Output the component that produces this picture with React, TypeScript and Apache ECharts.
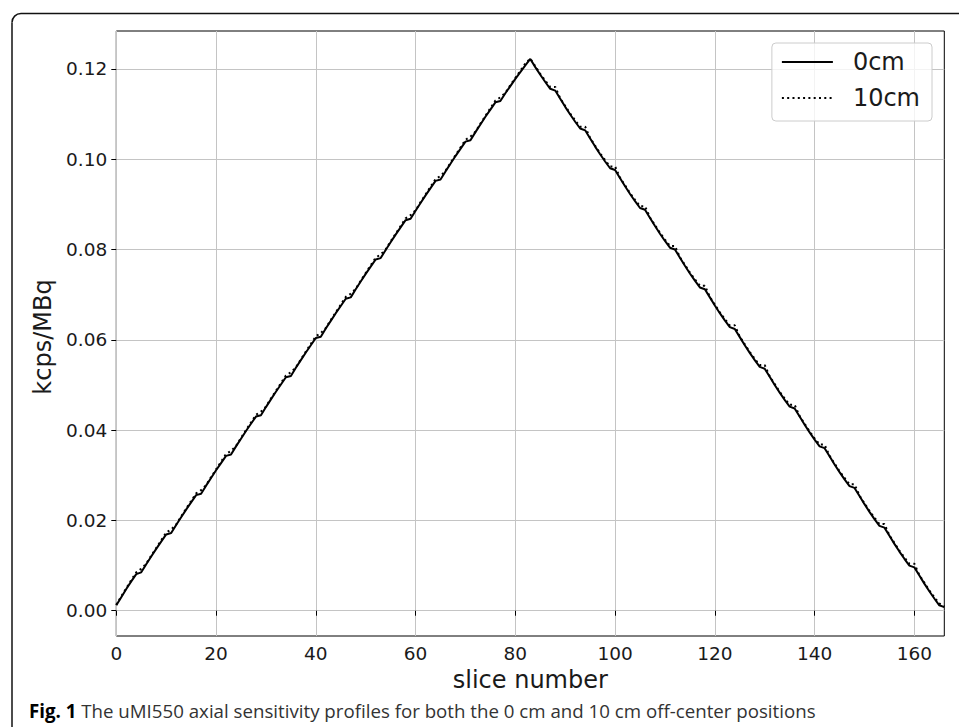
import React, { useEffect, useRef } from "react";
import * as echarts from "echarts";

// Sensitivity profile (kcps/MBq) per slice, 0cm off-center (slices 0..166)
const profile0cm = [
  0.0012, 0.0030, 0.0048, 0.0065, 0.0081, 0.0085,
  0.0103, 0.0120, 0.0137, 0.0153, 0.0169, 0.0172,
  0.0190, 0.0207, 0.0224, 0.0240, 0.0256, 0.0259,
  0.0277, 0.0294, 0.0311, 0.0327, 0.0343, 0.0346,
  0.0364, 0.0381, 0.0398, 0.0414, 0.0430, 0.0433,
  0.0451, 0.0468, 0.0485, 0.0501, 0.0517, 0.0520,
  0.0538, 0.0555, 0.0572, 0.0588, 0.0604, 0.0607,
  0.0625, 0.0642, 0.0659, 0.0675, 0.0691, 0.0694,
  0.0712, 0.0729, 0.0746, 0.0762, 0.0778, 0.0781,
  0.0799, 0.0816, 0.0833, 0.0849, 0.0865, 0.0868,
  0.0886, 0.0903, 0.0920, 0.0936, 0.0952, 0.0955,
  0.0973, 0.0990, 0.1007, 0.1023, 0.1039, 0.1042,
  0.1060, 0.1077, 0.1094, 0.1110, 0.1126, 0.1129,
  0.1146, 0.1162, 0.1178, 0.1193, 0.1208, 0.1222,
  0.1204, 0.1187, 0.1171, 0.1156, 0.1152,
  0.1134, 0.1116, 0.1099, 0.1083, 0.1068, 0.1064,
  0.1046, 0.1028, 0.1011, 0.0995, 0.0980, 0.0976,
  0.0958, 0.0940, 0.0923, 0.0907, 0.0892, 0.0888,
  0.0870, 0.0852, 0.0835, 0.0819, 0.0804, 0.0800,
  0.0782, 0.0764, 0.0747, 0.0731, 0.0716, 0.0712,
  0.0694, 0.0676, 0.0659, 0.0643, 0.0628, 0.0624,
  0.0606, 0.0588, 0.0571, 0.0555, 0.0540, 0.0536,
  0.0518, 0.0500, 0.0483, 0.0467, 0.0452, 0.0448,
  0.0430, 0.0412, 0.0395, 0.0379, 0.0364, 0.0360,
  0.0342, 0.0324, 0.0307, 0.0291, 0.0276, 0.0272,
  0.0254, 0.0236, 0.0219, 0.0203, 0.0188, 0.0184,
  0.0166, 0.0148, 0.0131, 0.0115, 0.0100, 0.0096,
  0.0078, 0.0060, 0.0043, 0.0027, 0.0012, 0.0008,
];

// Sensitivity profile (kcps/MBq) per slice, 10cm off-center (slices 0..166)
const profile10cm = [
  0.0013, 0.0032, 0.0050, 0.0068, 0.0085, 0.0093,
  0.0104, 0.0122, 0.0139, 0.0156, 0.0173, 0.0180,
  0.0191, 0.0209, 0.0226, 0.0243, 0.0260, 0.0267,
  0.0278, 0.0296, 0.0313, 0.0330, 0.0347, 0.0354,
  0.0365, 0.0383, 0.0400, 0.0417, 0.0434, 0.0441,
  0.0452, 0.0470, 0.0487, 0.0504, 0.0521, 0.0528,
  0.0539, 0.0557, 0.0574, 0.0591, 0.0608, 0.0615,
  0.0626, 0.0644, 0.0661, 0.0678, 0.0695, 0.0702,
  0.0713, 0.0731, 0.0748, 0.0765, 0.0782, 0.0789,
  0.0800, 0.0818, 0.0835, 0.0852, 0.0869, 0.0876,
  0.0887, 0.0905, 0.0922, 0.0939, 0.0956, 0.0963,
  0.0974, 0.0992, 0.1009, 0.1026, 0.1043, 0.1050,
  0.1061, 0.1079, 0.1096, 0.1113, 0.1130, 0.1137,
  0.1147, 0.1164, 0.1180, 0.1196, 0.1212, 0.1223,
  0.1206, 0.1189, 0.1174, 0.1160, 0.1160,
  0.1135, 0.1118, 0.1101, 0.1086, 0.1072, 0.1072,
  0.1047, 0.1030, 0.1013, 0.0998, 0.0984, 0.0984,
  0.0959, 0.0942, 0.0925, 0.0910, 0.0896, 0.0896,
  0.0871, 0.0854, 0.0837, 0.0822, 0.0808, 0.0808,
  0.0783, 0.0766, 0.0749, 0.0734, 0.0720, 0.0720,
  0.0695, 0.0678, 0.0661, 0.0646, 0.0632, 0.0632,
  0.0607, 0.0590, 0.0573, 0.0558, 0.0544, 0.0544,
  0.0519, 0.0502, 0.0485, 0.0470, 0.0456, 0.0456,
  0.0431, 0.0414, 0.0397, 0.0382, 0.0368, 0.0368,
  0.0343, 0.0326, 0.0309, 0.0294, 0.0280, 0.0280,
  0.0255, 0.0238, 0.0221, 0.0206, 0.0192, 0.0192,
  0.0167, 0.0150, 0.0133, 0.0118, 0.0104, 0.0104,
  0.0079, 0.0062, 0.0045, 0.0030, 0.0016, 0.0010,
];

const seriesNames = ["0cm", "10cm"];
const xTickValues = [0, 20, 40, 60, 80, 100, 120, 140, 160];
const yTickValues = [0, 0.02, 0.04, 0.06, 0.08, 0.1, 0.12];
const xAxisTitle = "slice number";
const yAxisTitle = "kcps/MBq";
const captionBold = "Fig. 1";
const captionRest =
  " The uMI550 axial sensitivity profiles for both the 0 cm and 10 cm off-center positions";

const FONT = "DejaVu Sans";

export default function App() {
  const ref = useRef<HTMLDivElement>(null);

  useEffect(() => {
    if (!ref.current) return;
    const chart = echarts.init(ref.current, null, { renderer: "svg" });

    const data0 = profile0cm.map((v, i) => [i, v]);
    const data10 = profile10cm.map((v, i) => [i, v]);

    chart.setOption({
      animation: false,
      backgroundColor: "#ffffff",
      grid: {
        left: 116.3,
        top: 31,
        right: 14.7,
        bottom: 91,
        show: true,
        borderColor: "#000000",
        borderWidth: 1,
        backgroundColor: "transparent",
        containLabel: false,
      },
      legend: {
        show: true,
        orient: "vertical",
        right: 27,
        top: 43,
        itemWidth: 51,
        itemHeight: 14,
        itemGap: 10,
        align: "left",
        padding: [6, 12, 10, 9],
        backgroundColor: "rgba(255,255,255,0.8)",
        borderColor: "#cccccc",
        borderWidth: 1,
        borderRadius: 4,
        data: seriesNames,
        itemStyle: { opacity: 0 },
        textStyle: {
          fontFamily: FONT,
          fontSize: 24,
          color: "#1a1a1a",
          lineHeight: 26,
          padding: [0, 0, 0, 15],
        },
      },
      xAxis: {
        type: "value",
        min: 0,
        max: 166,
        interval: 20,
        name: xAxisTitle,
        nameLocation: "middle",
        nameGap: 25,
        nameTextStyle: {
          fontFamily: FONT,
          fontSize: 24,
          color: "#1a1a1a",
          verticalAlign: "top",
        },
        axisLine: { show: false },
        axisTick: {
          show: true,
          inside: false,
          length: 5,
          customValues: xTickValues,
          lineStyle: { color: "#000000", width: 1 },
        },
        axisLabel: {
          customValues: xTickValues,
          fontFamily: FONT,
          fontSize: 18.5,
          color: "#1a1a1a",
          margin: 8,
        },
        splitLine: { show: true, lineStyle: { color: "#c4c4c4", width: 1 } },
      },
      yAxis: {
        type: "value",
        min: -0.0056,
        max: 0.1284,
        splitNumber: 7,
        name: yAxisTitle,
        nameLocation: "middle",
        nameGap: 42,
        nameRotate: 90,
        nameTextStyle: {
          fontFamily: FONT,
          fontSize: 24,
          color: "#1a1a1a",
          padding: [0, 7, 0, 0],
        },
        axisLine: { show: false },
        axisTick: {
          show: true,
          inside: false,
          length: 5,
          customValues: yTickValues,
          lineStyle: { color: "#000000", width: 1 },
        },
        axisLabel: {
          customValues: yTickValues,
          fontFamily: FONT,
          fontSize: 18.5,
          color: "#1a1a1a",
          margin: 9,
          formatter: (v: number) => v.toFixed(2),
        },
        splitLine: { show: true, lineStyle: { color: "#c4c4c4", width: 1 } },
      },
      graphic: [
        {
          type: "polyline",
          z: 100,
          silent: true,
          shape: {
            points: [
              [12, 740],
              [12, 22.5],
            ],
          },
          style: { fill: "none", stroke: "#111111", lineWidth: 1.5 },
        },
        {
          type: "arc",
          z: 100,
          silent: true,
          shape: { cx: 21, cy: 22.5, r: 9, startAngle: Math.PI, endAngle: Math.PI * 1.5 },
          style: { fill: "none", stroke: "#111111", lineWidth: 1.5 },
        },
        {
          type: "polyline",
          z: 100,
          silent: true,
          shape: {
            points: [
              [21, 13.5],
              [970, 13.5],
            ],
          },
          style: { fill: "none", stroke: "#111111", lineWidth: 1.5 },
        },
        {
          type: "text",
          left: 29,
          top: 701,
          z: 100,
          style: {
            text: "{b|" + captionBold + "}{r|" + captionRest + "}",
            rich: {
              b: {
                fontFamily: "Open Sans",
                fontWeight: "bold",
                fontSize: 18.7,
                fill: "#000000",
              },
              r: {
                fontFamily: "Open Sans",
                fontSize: 18.7,
                fill: "#333333",
              },
            },
          },
        },
      ],
      series: [
        {
          name: seriesNames[0],
          type: "line",
          data: data0,
          symbol: "none",
          showSymbol: false,
          lineStyle: { color: "#000000", width: 2, type: "solid" },
          itemStyle: { color: "#000000" },
          z: 3,
        },
        {
          name: seriesNames[1],
          type: "line",
          data: data10,
          symbol: "none",
          showSymbol: false,
          lineStyle: { color: "#000000", width: 2, type: [2, 3.3] },
          itemStyle: { color: "#000000" },
          z: 4,
        },
      ],
    });

    return () => {
      chart.dispose();
    };
  }, []);

  return (
    <div
      ref={ref}
      style={{
        position: "fixed",
        left: 0,
        top: 0,
        width: 959,
        height: 727,
        background: "#ffffff",
      }}
    />
  );
}
